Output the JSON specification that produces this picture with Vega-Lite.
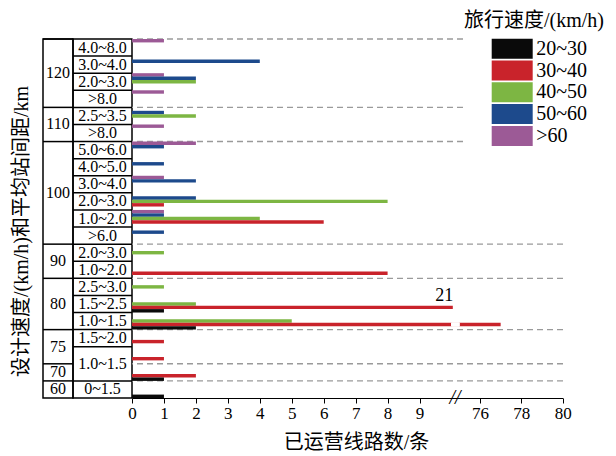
{
  "$schema": "https://vega.github.io/schema/vega-lite/v6.json",
  "padding": {"left": 10, "top": 10, "right": 5, "bottom": 5},
  "spacing": 0,
  "bounds": "flush",
  "config": {
    "font": "'Liberation Serif', 'Noto Sans CJK SC', serif",
    "view": {"stroke": null},
    "text": {"color": "black", "font": "'Liberation Serif', 'Noto Sans CJK SC', serif"},
    "axis": {"labelFont": "'Liberation Serif', 'Noto Sans CJK SC', serif", "titleFont": "'Liberation Serif', 'Noto Sans CJK SC', serif"},
    "legend": {"labelFont": "'Liberation Serif', 'Noto Sans CJK SC', serif", "titleFont": "'Liberation Serif', 'Noto Sans CJK SC', serif"}
  },
  "resolve": {"scale": {"y": "independent", "x": "independent"}},
  "datasets": {
    "bars": [
      {"row": "120 4.0~8.0", "speed": ">60", "lines": 1},
      {"row": "120 3.0~4.0", "speed": "50~60", "lines": 4},
      {"row": "120 2.0~3.0", "speed": ">60", "lines": 1},
      {"row": "120 2.0~3.0", "speed": "50~60", "lines": 2},
      {"row": "120 2.0~3.0", "speed": "40~50", "lines": 2},
      {"row": "120 >8.0", "speed": ">60", "lines": 1},
      {"row": "110 2.5~3.5", "speed": "50~60", "lines": 1},
      {"row": "110 2.5~3.5", "speed": "40~50", "lines": 2},
      {"row": "110 >8.0", "speed": ">60", "lines": 1},
      {"row": "100 5.0~6.0", "speed": ">60", "lines": 2},
      {"row": "100 5.0~6.0", "speed": "50~60", "lines": 1},
      {"row": "100 4.0~5.0", "speed": "50~60", "lines": 1},
      {"row": "100 3.0~4.0", "speed": ">60", "lines": 1},
      {"row": "100 3.0~4.0", "speed": "50~60", "lines": 2},
      {"row": "100 2.0~3.0", "speed": "50~60", "lines": 2},
      {"row": "100 2.0~3.0", "speed": "40~50", "lines": 8},
      {"row": "100 2.0~3.0", "speed": "30~40", "lines": 1},
      {"row": "100 1.0~2.0", "speed": ">60", "lines": 1},
      {"row": "100 1.0~2.0", "speed": "50~60", "lines": 1},
      {"row": "100 1.0~2.0", "speed": "40~50", "lines": 4},
      {"row": "100 1.0~2.0", "speed": "30~40", "lines": 6},
      {"row": "100 >6.0", "speed": "50~60", "lines": 1},
      {"row": "90 2.0~3.0", "speed": "40~50", "lines": 1},
      {"row": "90 1.0~2.0", "speed": "30~40", "lines": 8},
      {"row": "80 2.5~3.0", "speed": "40~50", "lines": 1},
      {"row": "80 1.5~2.5", "speed": "40~50", "lines": 2},
      {"row": "80 1.5~2.5", "speed": "30~40", "lines": 21},
      {"row": "80 1.5~2.5", "speed": "20~30", "lines": 1},
      {"row": "80 1.0~1.5", "speed": "40~50", "lines": 5},
      {"row": "80 1.0~1.5", "speed": "30~40", "lines": 77},
      {"row": "80 1.0~1.5", "speed": "20~30", "lines": 2},
      {"row": "75 1.5~2.0", "speed": "30~40", "lines": 1},
      {"row": "75 1.0~1.5", "speed": "30~40", "lines": 1},
      {"row": "70 1.0~1.5", "speed": "30~40", "lines": 2},
      {"row": "70 1.0~1.5", "speed": "20~30", "lines": 1},
      {"row": "60 0~1.5", "speed": "20~30", "lines": 1}
    ],
    "spacingCells": [
      {"row": "120 4.0~8.0", "label": "4.0~8.0"},
      {"row": "120 3.0~4.0", "label": "3.0~4.0"},
      {"row": "120 2.0~3.0", "label": "2.0~3.0"},
      {"row": "120 >8.0", "label": ">8.0"},
      {"row": "110 2.5~3.5", "label": "2.5~3.5"},
      {"row": "110 >8.0", "label": ">8.0"},
      {"row": "100 5.0~6.0", "label": "5.0~6.0"},
      {"row": "100 4.0~5.0", "label": "4.0~5.0"},
      {"row": "100 3.0~4.0", "label": "3.0~4.0"},
      {"row": "100 2.0~3.0", "label": "2.0~3.0"},
      {"row": "100 1.0~2.0", "label": "1.0~2.0"},
      {"row": "100 >6.0", "label": ">6.0"},
      {"row": "90 2.0~3.0", "label": "2.0~3.0"},
      {"row": "90 1.0~2.0", "label": "1.0~2.0"},
      {"row": "80 2.5~3.0", "label": "2.5~3.0"},
      {"row": "80 1.5~2.5", "label": "1.5~2.5"},
      {"row": "80 1.0~1.5", "label": "1.0~1.5"},
      {"row": "75 1.5~2.0", "label": "1.5~2.0"},
      {"row": "60 0~1.5", "label": "0~1.5"}
    ],
    "mergedSpacing": [
      {"row": "70 1.0~1.5", "label": "1.0~1.5"}
    ],
    "spacingBorders": [
      {"row": "120 3.0~4.0"}, {"row": "120 2.0~3.0"}, {"row": "120 >8.0"},
      {"row": "110 2.5~3.5"}, {"row": "110 >8.0"},
      {"row": "100 5.0~6.0"}, {"row": "100 4.0~5.0"}, {"row": "100 3.0~4.0"},
      {"row": "100 2.0~3.0"}, {"row": "100 1.0~2.0"}, {"row": "100 >6.0"},
      {"row": "90 2.0~3.0"}, {"row": "90 1.0~2.0"},
      {"row": "80 2.5~3.0"}, {"row": "80 1.5~2.5"}, {"row": "80 1.0~1.5"},
      {"row": "75 1.5~2.0"}, {"row": "75 1.0~1.5"},
      {"row": "60 0~1.5"}
    ],
    "groupStarts": [
      {"row": "120 4.0~8.0"}, {"row": "110 2.5~3.5"}, {"row": "100 5.0~6.0"},
      {"row": "90 2.0~3.0"}, {"row": "80 2.5~3.0"}, {"row": "75 1.5~2.0"},
      {"row": "70 1.0~1.5"}, {"row": "60 0~1.5"}
    ],
    "groupLabelsEdge": [
      {"row": "120 2.0~3.0", "label": "120"},
      {"row": "110 >8.0", "label": "110"},
      {"row": "100 2.0~3.0", "label": "100"},
      {"row": "90 1.0~2.0", "label": "90"},
      {"row": "75 1.0~1.5", "label": "75"}
    ],
    "groupLabelsMid": [
      {"row": "80 1.5~2.5", "label": "80"},
      {"row": "70 1.0~1.5", "label": "70"},
      {"row": "60 0~1.5", "label": "60"}
    ],
    "annot": [
      {"row": "80 1.5~2.5", "lines": 21}
    ],
    "gap": [
      {"row": "80 1.0~1.5", "speed": "30~40", "from": 10, "to": 75}
    ],
    "axisBreak": [
      {"row": "60 0~1.5", "at": 40, "mark": "//"}
    ]
  },
  "hconcat": [
    {
      "width": 30,
      "height": 359,
      "view": {"stroke": "black", "strokeWidth": 1.5},
      "layer": [
        {
          "data": {"name": "groupStarts"},
          "mark": {"type": "rule", "color": "black", "strokeWidth": 1.5},
          "encoding": {
            "y": {"field": "row", "type": "nominal", "bandPosition": 0,
              "scale": {"domain": ["120 4.0~8.0","120 3.0~4.0","120 2.0~3.0","120 >8.0","110 2.5~3.5","110 >8.0","100 5.0~6.0","100 4.0~5.0","100 3.0~4.0","100 2.0~3.0","100 1.0~2.0","100 >6.0","90 2.0~3.0","90 1.0~2.0","80 2.5~3.0","80 1.5~2.5","80 1.0~1.5","75 1.5~2.0","75 1.0~1.5","70 1.0~1.5","60 0~1.5"], "paddingInner": 0, "paddingOuter": 0},
              "axis": {"title": "设计速度/(km/h)和平均站间距/km", "labels": false, "ticks": false, "domain": false, "titleFontSize": 20, "titleFontWeight": "normal", "titleColor": "black", "titlePadding": 12, "titleY": 192}}
          }
        },
        {
          "data": {"name": "groupLabelsEdge"},
          "mark": {"type": "text", "fontSize": 16, "align": "center", "baseline": "middle"},
          "encoding": {
            "y": {"field": "row", "type": "nominal", "bandPosition": 0,
              "scale": {"domain": ["120 4.0~8.0","120 3.0~4.0","120 2.0~3.0","120 >8.0","110 2.5~3.5","110 >8.0","100 5.0~6.0","100 4.0~5.0","100 3.0~4.0","100 2.0~3.0","100 1.0~2.0","100 >6.0","90 2.0~3.0","90 1.0~2.0","80 2.5~3.0","80 1.5~2.5","80 1.0~1.5","75 1.5~2.0","75 1.0~1.5","70 1.0~1.5","60 0~1.5"], "paddingInner": 0, "paddingOuter": 0},
              "axis": {"title": "设计速度/(km/h)和平均站间距/km", "labels": false, "ticks": false, "domain": false, "titleFontSize": 20, "titleFontWeight": "normal", "titleColor": "black", "titlePadding": 12, "titleY": 192}},
            "text": {"field": "label"}
          }
        },
        {
          "data": {"name": "groupLabelsMid"},
          "mark": {"type": "text", "fontSize": 16, "align": "center", "baseline": "middle"},
          "encoding": {
            "y": {"field": "row", "type": "nominal", "bandPosition": 0.5,
              "scale": {"domain": ["120 4.0~8.0","120 3.0~4.0","120 2.0~3.0","120 >8.0","110 2.5~3.5","110 >8.0","100 5.0~6.0","100 4.0~5.0","100 3.0~4.0","100 2.0~3.0","100 1.0~2.0","100 >6.0","90 2.0~3.0","90 1.0~2.0","80 2.5~3.0","80 1.5~2.5","80 1.0~1.5","75 1.5~2.0","75 1.0~1.5","70 1.0~1.5","60 0~1.5"], "paddingInner": 0, "paddingOuter": 0},
              "axis": {"title": "设计速度/(km/h)和平均站间距/km", "labels": false, "ticks": false, "domain": false, "titleFontSize": 20, "titleFontWeight": "normal", "titleColor": "black", "titlePadding": 12, "titleY": 192}},
            "text": {"field": "label"}
          }
        }
      ]
    },
    {
      "width": 59,
      "height": 359,
      "view": {"stroke": "black", "strokeWidth": 1.5},
      "layer": [
        {
          "data": {"name": "spacingBorders"},
          "mark": {"type": "rule", "color": "black", "strokeWidth": 1.5},
          "encoding": {
            "y": {"field": "row", "type": "nominal", "bandPosition": 0, "axis": null,
              "scale": {"domain": ["120 4.0~8.0","120 3.0~4.0","120 2.0~3.0","120 >8.0","110 2.5~3.5","110 >8.0","100 5.0~6.0","100 4.0~5.0","100 3.0~4.0","100 2.0~3.0","100 1.0~2.0","100 >6.0","90 2.0~3.0","90 1.0~2.0","80 2.5~3.0","80 1.5~2.5","80 1.0~1.5","75 1.5~2.0","75 1.0~1.5","70 1.0~1.5","60 0~1.5"], "paddingInner": 0, "paddingOuter": 0}}
          }
        },
        {
          "data": {"name": "spacingCells"},
          "mark": {"type": "text", "fontSize": 16, "align": "center", "baseline": "middle"},
          "encoding": {
            "y": {"field": "row", "type": "nominal", "bandPosition": 0.5, "axis": null,
              "scale": {"domain": ["120 4.0~8.0","120 3.0~4.0","120 2.0~3.0","120 >8.0","110 2.5~3.5","110 >8.0","100 5.0~6.0","100 4.0~5.0","100 3.0~4.0","100 2.0~3.0","100 1.0~2.0","100 >6.0","90 2.0~3.0","90 1.0~2.0","80 2.5~3.0","80 1.5~2.5","80 1.0~1.5","75 1.5~2.0","75 1.0~1.5","70 1.0~1.5","60 0~1.5"], "paddingInner": 0, "paddingOuter": 0}},
            "text": {"field": "label"}
          }
        },
        {
          "data": {"name": "mergedSpacing"},
          "mark": {"type": "text", "fontSize": 16, "align": "center", "baseline": "middle"},
          "encoding": {
            "y": {"field": "row", "type": "nominal", "bandPosition": 0, "axis": null,
              "scale": {"domain": ["120 4.0~8.0","120 3.0~4.0","120 2.0~3.0","120 >8.0","110 2.5~3.5","110 >8.0","100 5.0~6.0","100 4.0~5.0","100 3.0~4.0","100 2.0~3.0","100 1.0~2.0","100 >6.0","90 2.0~3.0","90 1.0~2.0","80 2.5~3.0","80 1.5~2.5","80 1.0~1.5","75 1.5~2.0","75 1.0~1.5","70 1.0~1.5","60 0~1.5"], "paddingInner": 0, "paddingOuter": 0}},
            "text": {"field": "label"}
          }
        }
      ]
    },
    {
      "width": 431,
      "height": 359,
      "layer": [
        {
          "data": {"name": "groupStarts"},
          "mark": {"type": "rule", "color": "#9a9a9a", "strokeWidth": 1.4, "strokeDash": [6, 4]},
          "encoding": {
            "y": {"field": "row", "type": "nominal", "bandPosition": 0, "axis": null,
              "scale": {"domain": ["120 4.0~8.0","120 3.0~4.0","120 2.0~3.0","120 >8.0","110 2.5~3.5","110 >8.0","100 5.0~6.0","100 4.0~5.0","100 3.0~4.0","100 2.0~3.0","100 1.0~2.0","100 >6.0","90 2.0~3.0","90 1.0~2.0","80 2.5~3.0","80 1.5~2.5","80 1.0~1.5","75 1.5~2.0","75 1.0~1.5","70 1.0~1.5","60 0~1.5"], "paddingInner": 0, "paddingOuter": 0}}
          }
        },
        {
          "data": {"name": "bars"},
          "mark": {"type": "bar"},
          "encoding": {
            "y": {"field": "row", "type": "nominal", "axis": null,
              "scale": {"domain": ["120 4.0~8.0","120 3.0~4.0","120 2.0~3.0","120 >8.0","110 2.5~3.5","110 >8.0","100 5.0~6.0","100 4.0~5.0","100 3.0~4.0","100 2.0~3.0","100 1.0~2.0","100 >6.0","90 2.0~3.0","90 1.0~2.0","80 2.5~3.0","80 1.5~2.5","80 1.0~1.5","75 1.5~2.0","75 1.0~1.5","70 1.0~1.5","60 0~1.5"], "paddingInner": 0, "paddingOuter": 0}},
            "yOffset": {"field": "speed", "type": "nominal",
              "scale": {"domain": [">60", "50~60", "40~50", "30~40", "20~30"], "paddingInner": 0, "paddingOuter": 0}},
            "x": {"field": "lines", "type": "quantitative",
              "scale": {"type": "linear", "domain": [0, 10, 75, 80], "range": [0, 319.5, 327.3, 430.7], "zero": false, "nice": false},
              "axis": {"values": [0, 1, 2, 3, 4, 5, 6, 7, 8, 9, 76, 78, 80], "title": "已运营线路数/条", "grid": false, "labelFlush": false, "labelFontSize": 17, "labelColor": "black", "titleFontSize": 20, "titleFontWeight": "normal", "titleColor": "black", "tickSize": 5, "tickColor": "black", "domainColor": "black", "domainWidth": 1.2, "labelPadding": 2, "titlePadding": 11, "titleX": 224}},
            "color": {"field": "speed", "type": "nominal",
              "scale": {"domain": ["20~30", "30~40", "40~50", "50~60", ">60"], "range": ["#0a0a0a", "#c9232b", "#7db643", "#1d4a8c", "#9c5a96"]},
              "legend": {"orient": "none", "legendX": 420.7, "legendY": -28.3, "title": "旅行速度/(km/h)", "titleFontSize": 20, "titleFontWeight": "normal", "titleColor": "black", "titlePadding": 8, "labelFontSize": 20, "labelColor": "black", "symbolType": "M-1,-2H7.2V2H-1Z", "symbolSize": 100, "symbolStrokeWidth": 0, "symbolOpacity": 1, "labelOffset": 29.5, "rowPadding": 1.8, "padding": 0, "fillColor": "white",
                "encode": {"title": {"update": {"dx": {"value": -22.7}}}}}
            }
          }
        },
        {
          "data": {"name": "gap"},
          "mark": {"type": "bar", "color": "white", "stroke": "white", "strokeWidth": 1},
          "encoding": {
            "y": {"field": "row", "type": "nominal", "axis": null,
              "scale": {"domain": ["120 4.0~8.0","120 3.0~4.0","120 2.0~3.0","120 >8.0","110 2.5~3.5","110 >8.0","100 5.0~6.0","100 4.0~5.0","100 3.0~4.0","100 2.0~3.0","100 1.0~2.0","100 >6.0","90 2.0~3.0","90 1.0~2.0","80 2.5~3.0","80 1.5~2.5","80 1.0~1.5","75 1.5~2.0","75 1.0~1.5","70 1.0~1.5","60 0~1.5"], "paddingInner": 0, "paddingOuter": 0}},
            "yOffset": {"field": "speed", "type": "nominal",
              "scale": {"domain": [">60", "50~60", "40~50", "30~40", "20~30"], "paddingInner": 0, "paddingOuter": 0}},
            "x": {"field": "from", "type": "quantitative",
              "scale": {"type": "linear", "domain": [0, 10, 75, 80], "range": [0, 319.5, 327.3, 430.7], "zero": false, "nice": false},
              "axis": {"values": [0, 1, 2, 3, 4, 5, 6, 7, 8, 9, 76, 78, 80], "title": "已运营线路数/条", "grid": false, "labelFlush": false, "labelFontSize": 17, "labelColor": "black", "titleFontSize": 20, "titleFontWeight": "normal", "titleColor": "black", "tickSize": 5, "tickColor": "black", "domainColor": "black", "domainWidth": 1.2, "labelPadding": 2, "titlePadding": 11, "titleX": 224}},
            "x2": {"field": "to"}
          }
        },
        {
          "data": {"name": "annot"},
          "mark": {"type": "text", "fontSize": 18, "align": "right", "baseline": "middle", "dx": 0.5, "dy": 1},
          "encoding": {
            "y": {"field": "row", "type": "nominal", "bandPosition": 0, "axis": null,
              "scale": {"domain": ["120 4.0~8.0","120 3.0~4.0","120 2.0~3.0","120 >8.0","110 2.5~3.5","110 >8.0","100 5.0~6.0","100 4.0~5.0","100 3.0~4.0","100 2.0~3.0","100 1.0~2.0","100 >6.0","90 2.0~3.0","90 1.0~2.0","80 2.5~3.0","80 1.5~2.5","80 1.0~1.5","75 1.5~2.0","75 1.0~1.5","70 1.0~1.5","60 0~1.5"], "paddingInner": 0, "paddingOuter": 0}},
            "x": {"field": "lines", "type": "quantitative",
              "scale": {"type": "linear", "domain": [0, 10, 75, 80], "range": [0, 319.5, 327.3, 430.7], "zero": false, "nice": false},
              "axis": {"values": [0, 1, 2, 3, 4, 5, 6, 7, 8, 9, 76, 78, 80], "title": "已运营线路数/条", "grid": false, "labelFlush": false, "labelFontSize": 17, "labelColor": "black", "titleFontSize": 20, "titleFontWeight": "normal", "titleColor": "black", "tickSize": 5, "tickColor": "black", "domainColor": "black", "domainWidth": 1.2, "labelPadding": 2, "titlePadding": 11, "titleX": 224}},
            "text": {"field": "lines", "type": "quantitative"}
          }
        },
        {
          "data": {"name": "axisBreak"},
          "mark": {"type": "text", "fontSize": 20, "fontStyle": "italic", "align": "center", "baseline": "middle"},
          "encoding": {
            "y": {"field": "row", "type": "nominal", "bandPosition": 1, "axis": null,
              "scale": {"domain": ["120 4.0~8.0","120 3.0~4.0","120 2.0~3.0","120 >8.0","110 2.5~3.5","110 >8.0","100 5.0~6.0","100 4.0~5.0","100 3.0~4.0","100 2.0~3.0","100 1.0~2.0","100 >6.0","90 2.0~3.0","90 1.0~2.0","80 2.5~3.0","80 1.5~2.5","80 1.0~1.5","75 1.5~2.0","75 1.0~1.5","70 1.0~1.5","60 0~1.5"], "paddingInner": 0, "paddingOuter": 0}},
            "x": {"field": "at", "type": "quantitative",
              "scale": {"type": "linear", "domain": [0, 10, 75, 80], "range": [0, 319.5, 327.3, 430.7], "zero": false, "nice": false},
              "axis": {"values": [0, 1, 2, 3, 4, 5, 6, 7, 8, 9, 76, 78, 80], "title": "已运营线路数/条", "grid": false, "labelFlush": false, "labelFontSize": 17, "labelColor": "black", "titleFontSize": 20, "titleFontWeight": "normal", "titleColor": "black", "tickSize": 5, "tickColor": "black", "domainColor": "black", "domainWidth": 1.2, "labelPadding": 2, "titlePadding": 11, "titleX": 224}},
            "text": {"field": "mark"}
          }
        }
      ]
    }
  ]
}
